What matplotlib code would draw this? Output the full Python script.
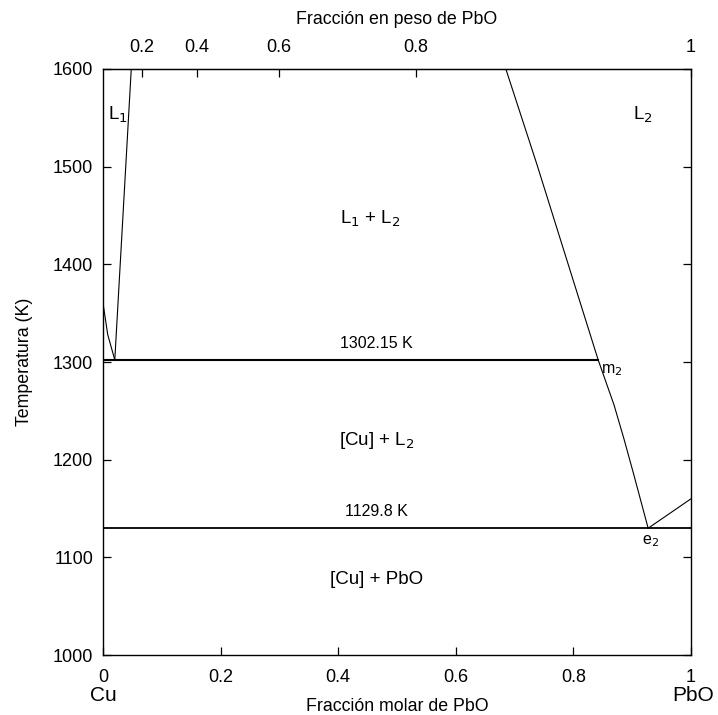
import numpy as np
import matplotlib
matplotlib.use('Agg')
import matplotlib.pyplot as plt

plt.rcParams['font.family'] = ['Liberation Sans', 'DejaVu Sans']

# Molar masses (g/mol) used to convert molar fraction to weight fraction
M_CU = 63.546
M_PBO = 223.2

# Phase boundaries: (molar fraction of PbO, temperature K)
liq1_x = [0.048, 0.020]
liq1_t = [1600, 1302.15]
cu_liq_x = [0.0, 0.008, 0.020]
cu_liq_t = [1360, 1328, 1302.15]
liq2_x = [0.685, 0.738, 0.790, 0.842, 0.869, 0.886, 0.902, 0.927]
liq2_t = [1600, 1502, 1402, 1302.15, 1256, 1221, 1186, 1129.8]
pbo_liq_x = [0.927, 1.0]
pbo_liq_t = [1129.8, 1160]

# Invariant points
t_mono = 1302.15
t_eut = 1129.8
x_mono = 0.842
x_eut = 0.927

weight_ticks = [0.2, 0.4, 0.6, 0.8, 1.0]
weight_labels = ['0.2', '0.4', '0.6', '0.8', '1']


def molar_to_weight(x):
    x = np.clip(np.asarray(x, dtype=float), 0, 1)
    return x * M_PBO / (x * M_PBO + (1 - x) * M_CU)


def weight_to_molar(w):
    w = np.clip(np.asarray(w, dtype=float), 0, 1)
    return (w / M_PBO) / (w / M_PBO + (1 - w) / M_CU)


fig = plt.figure(figsize=(7.18, 7.15), dpi=100)
ax = fig.add_axes([0.1435, 0.0839, 0.819, 0.8196])

lw_thin = 0.8
ax.plot(liq1_x, liq1_t, color='black', lw=lw_thin)
ax.plot(cu_liq_x, cu_liq_t, color='black', lw=lw_thin)
ax.plot(liq2_x, liq2_t, color='black', lw=lw_thin)
ax.plot(pbo_liq_x, pbo_liq_t, color='black', lw=lw_thin)
ax.plot([0, x_mono], [t_mono, t_mono], color='black', lw=1.5)
ax.plot([0, 1], [t_eut, t_eut], color='black', lw=1.3)

ax.set_xlim(0, 1)
ax.set_ylim(1000, 1600)
ax.set_xticks([0, 0.2, 0.4, 0.6, 0.8, 1])
ax.set_xticklabels(['0', '0.2', '0.4', '0.6', '0.8', '1'])
ax.set_yticks(np.arange(1000, 1601, 100))
ax.tick_params(direction='in', length=6, width=0.9, labelsize=13, right=True)
ax.tick_params(axis='x', pad=10)
ax.tick_params(axis='y', pad=7)
for s in ax.spines.values():
    s.set_linewidth(1.0)

ax.set_xlabel('Fracción molar de PbO', fontsize=12.8, labelpad=9)
ax.set_ylabel('Temperatura (K)', fontsize=12.8, labelpad=14)

# Top axis in weight fraction
top = ax.secondary_xaxis('top', functions=(molar_to_weight, weight_to_molar))
top.set_xticks(weight_ticks)
top.set_xticklabels(weight_labels)
top.tick_params(direction='in', length=6, width=0.9, labelsize=13, pad=9)
top.set_xlabel('Fracción en peso de PbO', fontsize=12.8, labelpad=11)

# Component names under the axis ends
ax.text(0.0, -0.053, 'Cu', transform=ax.transAxes, ha='center', va='top', fontsize=15)
ax.text(1.004, -0.053, 'PbO', transform=ax.transAxes, ha='center', va='top', fontsize=15)

# Phase field labels
ax.text(0.026, 1553, 'L$_1$', fontsize=13.5, ha='center', va='center')
ax.text(0.918, 1553, 'L$_2$', fontsize=13.5, ha='center', va='center')
ax.text(0.455, 1447, 'L$_1$ + L$_2$', fontsize=13.5, ha='center', va='center')
ax.text(0.465, 1220, '[Cu] + L$_2$', fontsize=13.5, ha='center', va='center')
ax.text(0.465, 1077, '[Cu] + PbO', fontsize=13.5, ha='center', va='center')

ax.text(0.465, t_mono + 9, f'{t_mono:.2f} K', fontsize=11.5, ha='center', va='bottom')
ax.text(0.465, t_eut + 9, f'{t_eut:.1f} K', fontsize=11.5, ha='center', va='bottom')
ax.text(x_mono + 0.005, t_mono - 2, 'm$_2$', fontsize=11.5, ha='left', va='top')
ax.text(x_eut + 0.004, t_eut - 5, 'e$_2$', fontsize=11.5, ha='center', va='top')

fig.savefig('out.png', dpi=100)
